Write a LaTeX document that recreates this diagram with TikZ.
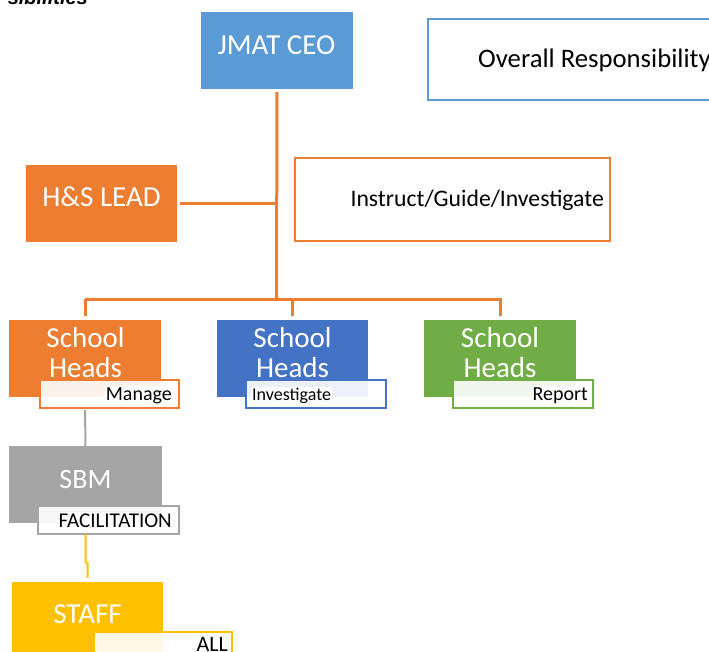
\documentclass[tikz,border=0pt]{standalone}
\usepackage{fontspec}
\setmainfont{Carlito}
\newfontfamily\titlefont{Liberation Sans}
\definecolor{ceoblue}{HTML}{5B9BD5}
\definecolor{orng}{HTML}{ED7D31}
\definecolor{dblue}{HTML}{4472C4}
\definecolor{grn}{HTML}{70AD47}
\definecolor{gry}{HTML}{A5A5A5}
\definecolor{ylw}{HTML}{FFC000}
\begin{document}
\begin{tikzpicture}[x=1pt,y=-1pt,
  box/.style={draw=none, inner sep=0, outer sep=0, anchor=north west},
  big/.style={font=\fontsize{29}{32}\selectfont, text=white, inner sep=0, anchor=base},
  lab/.style={font=\fontsize{20}{22}\selectfont, text=black, inner sep=1pt, fill=white, anchor=base east},
  tag/.style={fill=white, fill opacity=0.9, line width=2.2pt, inner sep=0, outer sep=0, anchor=north west},
  frame/.style={fill=white, line width=2pt, inner sep=0, outer sep=0, anchor=north west},
  conn/.style={line width=2pt},
  oconn/.style={line width=3pt, orng}]
\useasboundingbox (0,0) rectangle (709,652);
\clip (0,0) rectangle (709,652);

% title (cut off at top)
\node[font=\titlefont\bfseries\itshape\fontsize{20}{22}\selectfont, inner sep=0, anchor=base east] (title) at (88,5) {sibilities};

% top boxes
\node[box, fill=ceoblue, minimum width=152pt, minimum height=77pt] (ceo) at (201,12) {};
\node[big] (ceot) at (276.5,55) {JMAT CEO};

\node[frame, draw=ceoblue, minimum width=320pt, minimum height=81pt] (overall) at (428,19) {};
\node[font=\fontsize{26.7}{30}\selectfont, inner sep=0, anchor=base west] (overallt) at (478,68) {Overall Responsibility};

\node[box, fill=orng, minimum width=151pt, minimum height=77pt] (hs) at (26,165) {};
\node[big] (hst) at (101.5,207) {H\&S LEAD};

\node[frame, draw=orng, line width=2.5pt, minimum width=315pt, minimum height=83pt] (instr) at (295,158) {};
\node[font=\fontsize{23.7}{26}\selectfont, inner sep=0, anchor=base east] (instrt) at (604,207) {Instruct/Guide/Investigate};

% school heads
\node[box, fill=orng, minimum width=152pt, minimum height=77pt] (sh1) at (9,320) {};
\node[box, fill=dblue, minimum width=151pt, minimum height=77pt] (sh2) at (217,320) {};
\node[box, fill=grn, minimum width=152pt, minimum height=77pt] (sh3) at (424,320) {};
\foreach \n/\x in {1/85.5, 2/292.5, 3/500} {
  \node[big] (sh\n a) at (\x,347) {School};
  \node[big] (sh\n b) at (\x,377) {Heads};
}
\node[tag, draw=orng, minimum width=139pt, minimum height=28pt] (tag1) at (40,380) {};
\node[tag, draw=dblue, minimum width=140pt, minimum height=28pt] (tag2) at (246,380) {};
\node[tag, draw=grn, minimum width=140pt, minimum height=28pt] (tag3) at (453,380) {};
\node[lab] (tag1t) at (173,400) {Manage};
\node[lab, font=\fontsize{18}{20}\selectfont, anchor=base west] (tag2t) at (251,400) {Investigate};
\node[lab] (tag3t) at (589,400) {Report};

% SBM and staff
\node[box, fill=gry, minimum width=153pt, minimum height=77pt] (sbm) at (9,446) {};
\node[big, font=\fontsize{28}{30}\selectfont] (sbmt) at (85.5,488) {SBM};
\node[tag, draw=gry, minimum width=141pt, minimum height=28pt] (ftag) at (38,506) {};
\node[lab, font=\fontsize{21}{23}\selectfont] (ftagt) at (173,527) {FACILITATION};

\node[box, fill=ylw, minimum width=151pt, minimum height=80pt] (staff) at (12,582) {};
\node[big] (stafft) at (87.5,623) {STAFF};
\node[tag, draw=ylw, minimum width=138pt, minimum height=30pt] (alltag) at (94,632) {};
\node[lab, font=\fontsize{22}{24}\selectfont] (allt) at (229,651) {ALL};

% connectors
\coordinate (bus) at (276.5,299);
\draw[oconn, shorten <=3pt] (ceo.south) -- (bus);
\draw[oconn, shorten <=3pt] (hs.east) -- (hs.east -| bus);
\draw[oconn, shorten >=4pt] (sh1.north |- bus) -- (sh3.north |- bus) -- (sh3.north);
\draw[oconn, shorten <=4pt] (sh1.north) -- (sh1.north |- bus);
\draw[oconn, shorten >=4pt] (sh2.north |- bus) -- (sh2.north);
\draw[conn, gry, shorten <=2pt] (sh1.south |- tag1.south) -- (sbm.north);
\coordinate (j1) at (85.5,562);
\coordinate (j2) at (87.5,563);
\draw[conn, ylw, shorten >=4pt] (sbm.south |- ftag.south) -- (j1) -- (j2) -- (staff.north);
\end{tikzpicture}
\end{document}
